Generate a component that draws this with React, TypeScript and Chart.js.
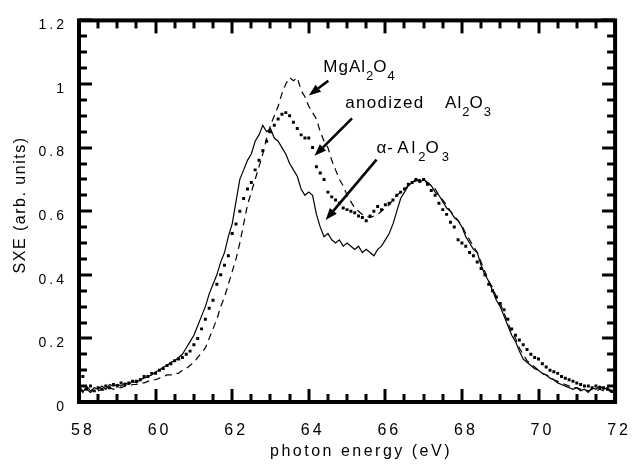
import React, { useEffect, useRef } from "react";
import { Chart, registerables } from "chart.js";

Chart.register(...registerables);

// photon energy grid (eV): 58.0 .. 72.0, step 0.1
const ENERGY_START = 58;
const ENERGY_STEP = 0.1;

// alpha-Al2O3 (solid line)
const alphaAl2O3 = [
  0.045, 0.03, 0.05, 0.035, 0.045, 0.04, 0.05, 0.04, 0.055, 0.05,
  0.055, 0.05, 0.06, 0.055, 0.065, 0.06, 0.07, 0.075, 0.08, 0.085,
  0.095, 0.1, 0.11, 0.115, 0.125, 0.13, 0.14, 0.15, 0.17, 0.19,
  0.21, 0.24, 0.27, 0.3, 0.34, 0.37, 0.4, 0.44, 0.47, 0.52,
  0.56, 0.63, 0.7, 0.73, 0.76, 0.78, 0.82, 0.84, 0.87, 0.85,
  0.86, 0.83, 0.82, 0.8, 0.78, 0.75, 0.73, 0.71, 0.67, 0.65,
  0.66, 0.65, 0.59, 0.55, 0.52, 0.53, 0.51, 0.5, 0.51, 0.49,
  0.5, 0.49, 0.48, 0.49, 0.47, 0.48, 0.47, 0.46, 0.48, 0.49,
  0.51, 0.53, 0.56, 0.6, 0.64, 0.66, 0.68, 0.69, 0.7, 0.69,
  0.7, 0.69, 0.68, 0.66, 0.65, 0.63, 0.61, 0.6, 0.58, 0.57,
  0.55, 0.52, 0.5, 0.48, 0.47, 0.43, 0.4, 0.38, 0.35, 0.32,
  0.3, 0.27, 0.24, 0.21, 0.19, 0.16, 0.135, 0.125, 0.115, 0.105,
  0.1, 0.09, 0.085, 0.075, 0.07, 0.06, 0.055, 0.05, 0.045, 0.04,
  0.045, 0.035, 0.04, 0.03, 0.045, 0.04, 0.05, 0.04, 0.045, 0.035,
  0.025,
];

// MgAl2O4 (dashed line)
const mgAl2O4 = [
  0.05, 0.035, 0.04, 0.03, 0.04, 0.035, 0.04, 0.035, 0.045, 0.04,
  0.045, 0.045, 0.05, 0.05, 0.055, 0.055, 0.06, 0.06, 0.065, 0.07,
  0.07, 0.075, 0.08, 0.085, 0.085, 0.09, 0.09, 0.1, 0.105, 0.115,
  0.125, 0.14, 0.155, 0.17, 0.2, 0.23, 0.26, 0.3, 0.33, 0.37,
  0.41, 0.45, 0.5, 0.56, 0.62, 0.66, 0.7, 0.74, 0.78, 0.83,
  0.87, 0.9, 0.93, 0.97, 1.0, 1.02, 1.01, 1.02, 0.98, 0.96,
  0.93, 0.91, 0.89, 0.85, 0.82, 0.8, 0.76, 0.73, 0.7, 0.68,
  0.65, 0.63, 0.61, 0.6, 0.59, 0.585, 0.58, 0.585, 0.59, 0.6,
  0.61, 0.62, 0.635, 0.65, 0.66, 0.67, 0.68, 0.69, 0.695, 0.7,
  0.695, 0.69, 0.68, 0.67, 0.65, 0.635, 0.62, 0.6, 0.585, 0.57,
  0.555, 0.53, 0.51, 0.49, 0.47, 0.44, 0.41, 0.38, 0.36, 0.33,
  0.31, 0.28, 0.25, 0.22, 0.2, 0.17, 0.15, 0.13, 0.12, 0.11,
  0.1, 0.09, 0.085, 0.08, 0.07, 0.065, 0.06, 0.055, 0.05, 0.045,
  0.045, 0.04, 0.04, 0.035, 0.04, 0.035, 0.04, 0.035, 0.04, 0.03,
  0.03,
];

// anodized Al2O3 (square dots)
const anodizedAl2O3 = [
  0.06, 0.08, 0.04, 0.05, 0.035, 0.045, 0.04, 0.05, 0.045, 0.055,
  0.05, 0.06, 0.055, 0.06, 0.065, 0.065, 0.07, 0.08, 0.08, 0.09,
  0.09, 0.1, 0.105, 0.115, 0.12, 0.13, 0.135, 0.14, 0.15, 0.16,
  0.18, 0.2, 0.23, 0.26, 0.295, 0.32, 0.37, 0.4, 0.43, 0.46,
  0.53, 0.56, 0.6, 0.64, 0.67, 0.69, 0.73, 0.76, 0.79, 0.82,
  0.85, 0.87, 0.89, 0.905, 0.91, 0.9, 0.88, 0.86, 0.84, 0.83,
  0.83, 0.8, 0.74, 0.72, 0.7, 0.66, 0.645, 0.635, 0.625, 0.61,
  0.605, 0.6, 0.595, 0.585, 0.58, 0.57, 0.585, 0.6, 0.615, 0.605,
  0.62, 0.625, 0.635, 0.65, 0.66, 0.67, 0.685, 0.69, 0.7, 0.695,
  0.7, 0.685, 0.665, 0.65, 0.625, 0.605, 0.59, 0.565, 0.55, 0.51,
  0.5, 0.49, 0.47, 0.46, 0.44, 0.42, 0.4, 0.37, 0.35, 0.33,
  0.31, 0.29, 0.26, 0.23, 0.21, 0.195, 0.18, 0.165, 0.15, 0.14,
  0.135, 0.12, 0.11, 0.1, 0.095, 0.09, 0.08, 0.075, 0.07, 0.065,
  0.06, 0.055, 0.05, 0.05, 0.045, 0.05, 0.045, 0.045, 0.04, 0.035,
  0.03,
];

const xTickLabels = ["58", "60", "62", "64", "66", "68", "70", "72"];
const yTickLabels = ["0", "0.2", "0.4", "0.6", "0.8", "1", "1.2"];
const xTitle = "photon energy (eV)";
const yTitle = "SXE (arb. units)";

const FONT = "'Liberation Sans', Arial, Helvetica, sans-serif";

const toPoints = (vals: number[]) =>
  vals.map((y, i) => ({ x: +(ENERGY_START + i * ENERGY_STEP).toFixed(2), y }));

type Part = [string, boolean];

function drawChem(ctx: CanvasRenderingContext2D, x: number, y: number, parts: Part[], spacing = 1) {
  let cx = x;
  for (const [t, sub] of parts) {
    ctx.font = sub ? `13px ${FONT}` : `17px ${FONT}`;
    (ctx as any).letterSpacing = sub ? "0px" : `${spacing}px`;
    ctx.fillText(t, cx, sub ? y + 8 : y);
    cx += ctx.measureText(t).width;
  }
}

function arrow(ctx: CanvasRenderingContext2D, x1: number, y1: number, x2: number, y2: number) {
  const ang = Math.atan2(y2 - y1, x2 - x1);
  const hl = 12;
  const hw = 4.5;
  const bx = x2 - hl * Math.cos(ang);
  const by = y2 - hl * Math.sin(ang);
  ctx.beginPath();
  ctx.moveTo(x1, y1);
  ctx.lineTo(bx, by);
  ctx.lineWidth = 2.6;
  ctx.stroke();
  ctx.beginPath();
  ctx.moveTo(x2, y2);
  ctx.lineTo(bx + hw * Math.sin(ang), by - hw * Math.cos(ang));
  ctx.lineTo(bx - hw * Math.sin(ang), by + hw * Math.cos(ang));
  ctx.closePath();
  ctx.fill();
}

const framePlugin = {
  id: "framePlugin",
  beforeDraw(chart: any) {
    chart.ctx.letterSpacing = "3px";
  },
  afterDraw(chart: any) {
    const ctx: CanvasRenderingContext2D = chart.ctx;
    const { left, right, top, bottom } = chart.chartArea;
    const xs = chart.scales.x;
    const ys = chart.scales.y;
    ctx.save();
    ctx.setLineDash([]);
    (ctx as any).letterSpacing = "0px";
    ctx.strokeStyle = "#000";
    ctx.fillStyle = "#000";
    ctx.globalAlpha = 1;
    // frame
    ctx.lineWidth = 4;
    ctx.strokeRect(left, top, right - left, bottom - top);
    // ticks on all four sides (inward)
    const tw = 3;
    for (let v = 58; v <= 72.001; v += 0.5) {
      const major = Math.abs(v / 2 - Math.round(v / 2)) < 1e-6;
      const len = major ? 13 : 8;
      const px = Math.round(xs.getPixelForValue(v));
      ctx.fillRect(px - tw / 2, bottom - len, tw, len);
      ctx.fillRect(px - tw / 2, top, tw, len);
    }
    for (let i = 0; i <= 24; i++) {
      const v = i * 0.05;
      const major = i % 4 === 0;
      const len = major ? 13 : 8;
      const py = Math.round(ys.getPixelForValue(v));
      ctx.fillRect(left, py - tw / 2, len, tw);
      ctx.fillRect(right - len, py - tw / 2, len, tw);
    }

    // axis titles
    ctx.textBaseline = "middle";
    ctx.textAlign = "center";
    ctx.font = `16px ${FONT}`;
    (ctx as any).letterSpacing = "2.5px";
    ctx.fillText(xTitle, 361, 452);
    ctx.save();
    ctx.translate(21, 205);
    ctx.rotate(-Math.PI / 2);
    (ctx as any).letterSpacing = "1.5px";
    ctx.fillText(yTitle, 0, 0);
    ctx.restore();

    // annotations (placed in data coordinates)
    const P = (e: number, v: number) => [xs.getPixelForValue(e), ys.getPixelForValue(v)];
    ctx.textAlign = "left";
    ctx.textBaseline = "alphabetic";
    let [tx, ty] = P(64.38, 1.038);
    drawChem(ctx, tx, ty, [["MgAl", false], ["2", true], ["O", false], ["4", true]]);
    [tx, ty] = P(64.95, 0.923);
    ctx.font = `17px ${FONT}`;
    (ctx as any).letterSpacing = "1.3px";
    ctx.fillText("anodized", tx, ty);
    [tx] = P(67.56, 0);
    drawChem(ctx, tx, ty, [["Al", false], ["2", true], ["O", false], ["3", true]]);
    [tx, ty] = P(65.77, 0.783);
    ctx.font = `17px ${FONT}`;
    (ctx as any).letterSpacing = "1px";
    ctx.fillText("\u03b1-", tx, ty);
    [tx] = P(66.31, 0);
    drawChem(ctx, tx, ty, [["Al", false], ["2", true], ["O", false], ["3", true]], 3);

    (ctx as any).letterSpacing = "0px";
    let [a1, b1] = P(64.51, 1.01);
    let [a2, b2] = P(64.0, 0.964);
    arrow(ctx, a1, b1, a2, b2);
    [a1, b1] = P(65.13, 0.892);
    [a2, b2] = P(64.15, 0.774);
    arrow(ctx, a1, b1, a2, b2);
    [a1, b1] = P(65.77, 0.762);
    [a2, b2] = P(64.44, 0.572);
    arrow(ctx, a1, b1, a2, b2);
    ctx.restore();
  },
};

export default function App() {
  const ref = useRef<HTMLCanvasElement | null>(null);
  useEffect(() => {
    if (!ref.current) return;
    const chart = new Chart(ref.current, {
      type: "scatter",
      data: {
        datasets: [
          {
            label: "\u03b1-Al2O3",
            data: toPoints(alphaAl2O3),
            showLine: true,
            borderColor: "#000",
            borderWidth: 1.2,
            pointRadius: 0,
            tension: 0,
          },
          {
            label: "MgAl2O4",
            data: toPoints(mgAl2O4),
            showLine: true,
            borderColor: "#000",
            borderWidth: 1.2,
            borderDash: [7, 5],
            pointRadius: 0,
            tension: 0,
          },
          {
            label: "anodized Al2O3",
            data: toPoints(anodizedAl2O3),
            showLine: false,
            pointStyle: "rect",
            pointRadius: 2.1,
            borderWidth: 0,
            backgroundColor: "#000",
            borderColor: "#000",
          },
        ],
      },
      options: {
        animation: false,
        responsive: false,
        devicePixelRatio: 1,
        layout: { padding: { top: 16, right: 18, left: 0, bottom: 0 } },
        plugins: { legend: { display: false }, tooltip: { enabled: false }, title: { display: false } },
        scales: {
          x: {
            type: "linear",
            min: 58,
            max: 72,
            grid: { display: false, drawTicks: false },
            border: { display: false },
            ticks: {
              stepSize: 2,
              autoSkip: false,
              maxRotation: 0,
              padding: 19,
              labelOffset: 4,
              color: "#000",
              font: { family: FONT, size: 16 },
              callback: (_v: any, i: number) => xTickLabels[i],
            },
            afterFit: (s: any) => {
              s.height = 62;
            },
          },
          y: {
            type: "linear",
            min: 0,
            max: 1.2,
            grid: { display: false, drawTicks: false },
            border: { display: false },
            ticks: {
              stepSize: 0.2,
              autoSkip: false,
              padding: 12,
              labelOffset: 5,
              color: "#000",
              font: { family: FONT, size: 14 },
              callback: (_v: any, i: number) => yTickLabels[i],
            },
            afterFit: (s: any) => {
              s.width = 79;
            },
          },
        },
      },
      plugins: [framePlugin],
    });
    return () => chart.destroy();
  }, []);
  return (
    <div style={{ position: "fixed", left: 0, top: 0, width: 643, height: 464, background: "#fff" }}>
      <canvas ref={ref} width={643} height={464} style={{ width: 643, height: 464, display: "block" }} />
    </div>
  );
}
